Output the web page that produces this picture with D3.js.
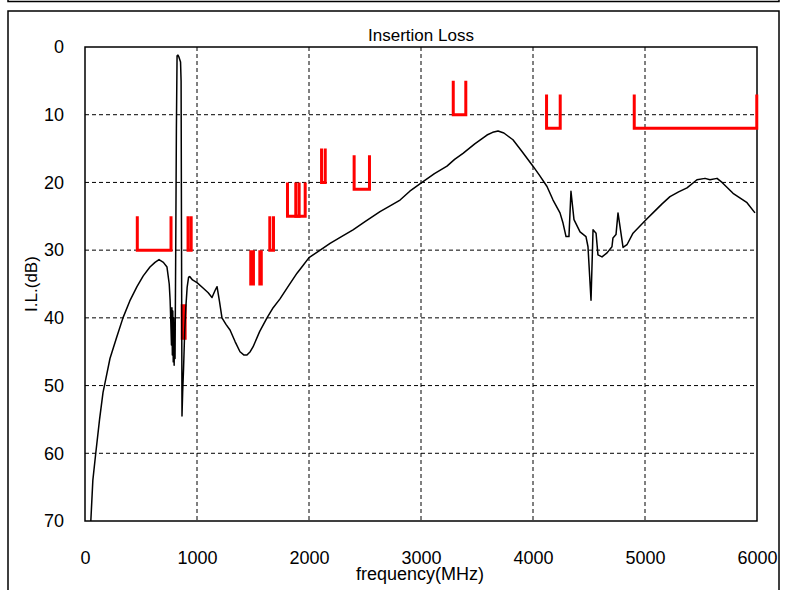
<!DOCTYPE html>
<meta charset="utf-8">
<style>
body{margin:0;background:#fff;}
text{font-family:Arial,"Liberation Sans",sans-serif;fill:#000;}
</style>
<body>
<script src="https://d3js.org/d3.v7.min.js"></script>
<script>
// measured insertion loss curve
var freq = [52,70,96,130,161,180,223,280,339,400,464,520,580,625,661,700,732,752,760,765,772,776,780,784,788,792,796,800,804,810,816,822,830,839,853,858,862,866,872,880,890,900,912,925,935,960,1000,1054,1100,1134,1160,1179,1200,1223,1260,1295,1340,1384,1420,1446,1475,1500,1560,1625,1680,1741,1820,1893,1950,2000,2100,2188,2290,2393,2500,2634,2720,2813,2900,3009,3120,3232,3300,3375,3480,3589,3640,3688,3740,3821,3900,4000,4060,4125,4179,4241,4268,4295,4321,4339,4366,4420,4473,4491,4518,4536,4563,4580,4616,4661,4705,4714,4741,4759,4804,4839,4893,5009,5071,5150,5223,5300,5375,5464,5536,5580,5643,5688,5786,5911,5982];
var loss = [70,64,60,55,51,49.5,46,43,40,37.5,35.4,33.8,32.5,31.8,31.4,31.8,32.5,35,37.4,40,44,38.5,45.5,39,46.5,40,47,41,46,30,12,1.3,1.2,1.5,2.2,5,30,54.5,51,47.5,42,38.5,35.5,34,33.9,34.4,34.8,35.6,36.3,37,36,35.4,37.5,40,41,41.8,43.5,45,45.5,45.5,45,44.3,42,40,38.5,37.2,35.2,33.4,32.2,31.1,30,29,28,27,25.8,24.3,23.5,22.6,21.3,20,18.7,17.6,16.6,15.7,14.3,13,12.6,12.4,12.7,13.7,15.4,17.6,19,20.6,22.6,24.5,26,28,28,21.3,25.5,27.3,28,29.5,37.4,27,27.5,30.7,31,30.4,29.5,28.2,27.7,24.5,29.6,29.2,27.5,25.5,24.5,23.2,22.1,21.4,20.8,19.6,19.4,19.6,19.4,20,21.6,23,24.5];

// spec masks (U shapes): start / end frequency, upper and lower limit
var specStart  = [467,920,868,1480,1561,1650,1808,1882,2112,2403,3288,4121,4904];
var specEnd    = [768,948,894,1504,1574,1683,1966,1912,2145,2540,3400,4243,5998];
var specTop    = [25,25,38,30,30,25,20,20,15,16,5,7,7];
var specBottom = [30,30,43,35,35,30,25,25,20,21,10,12,12];

var xTicks = [0,1000,2000,3000,4000,5000,6000];
var yTicks = [0,10,20,30,40,50,60,70];

var w = 785, h = 590;
var pLeft = 85, pRight = 757, pTop = 47, pBottom = 521;

var svg = d3.select("body").append("svg")
  .attr("width", w)
  .attr("height", h);

// outer frames
svg.append("rect")
  .attr("x", 8).attr("y", -20).attr("width", 771).attr("height", 21.5)
  .attr("fill", "none").attr("stroke", "#000").attr("stroke-width", 1.5);
svg.append("rect")
  .attr("x", 8).attr("y", 11).attr("width", 771).attr("height", 600)
  .attr("fill", "none").attr("stroke", "#000").attr("stroke-width", 1.5);

var x = d3.scaleLinear().domain([0, 6000]).range([pLeft, pRight]);
var y = d3.scaleLinear().domain([0, 70]).range([pTop, pBottom]);

// grid
svg.selectAll(".vgrid")
  .data(xTicks.slice(1, -1))
  .enter().append("line")
  .attr("x1", d => x(d)).attr("x2", d => x(d))
  .attr("y1", pTop).attr("y2", pBottom)
  .attr("stroke", "#000").attr("stroke-width", 1)
  .attr("stroke-dasharray", "4,3");

svg.selectAll(".hgrid")
  .data(yTicks.slice(1, -1))
  .enter().append("line")
  .attr("x1", pLeft).attr("x2", pRight)
  .attr("y1", d => y(d)).attr("y2", d => y(d))
  .attr("stroke", "#000").attr("stroke-width", 1)
  .attr("stroke-dasharray", "4,3");

// axes (labels only, no tick marks)
var xAxis = svg.append("g")
  .attr("transform", "translate(0," + pBottom + ")")
  .call(d3.axisBottom(x).tickValues(xTicks).tickSize(0).tickPadding(30).tickFormat(d3.format("d")));
var yAxis = svg.append("g")
  .attr("transform", "translate(" + pLeft + ",0)")
  .call(d3.axisLeft(y).tickValues(yTicks).tickSize(0).tickPadding(21).tickFormat(d3.format("d")));
[xAxis, yAxis].forEach(function(g) {
  g.select(".domain").remove();
  g.selectAll("text").attr("font-size", "18px").attr("font-family", "Arial, 'Liberation Sans', sans-serif").attr("fill", "#000");
});

// plot frame
svg.append("rect")
  .attr("x", pLeft).attr("y", pTop)
  .attr("width", pRight - pLeft).attr("height", pBottom - pTop)
  .attr("fill", "none").attr("stroke", "#000").attr("stroke-width", 1.5);

// spec lines
var specs = specStart.map(function(s, i) {
  return [[s, specTop[i]], [s, specBottom[i]], [specEnd[i], specBottom[i]], [specEnd[i], specTop[i]]];
});
var specLine = d3.line().x(d => x(d[0])).y(d => y(d[1]));
svg.selectAll(".spec")
  .data(specs)
  .enter().append("path")
  .attr("d", specLine)
  .attr("fill", "none")
  .attr("stroke", "#ff0000")
  .attr("stroke-width", 3)
  .attr("stroke-linejoin", "miter");

// curve
var pts = freq.map(function(f, i) { return [f, loss[i]]; });
svg.append("path")
  .datum(pts)
  .attr("d", d3.line().x(d => x(d[0])).y(d => y(d[1])))
  .attr("fill", "none")
  .attr("stroke", "#000")
  .attr("stroke-width", 1.5)
  .attr("stroke-linejoin", "round");

// titles
svg.append("text")
  .attr("x", (pLeft + pRight) / 2).attr("y", 41)
  .attr("text-anchor", "middle")
  .attr("font-size", "17px")
  .text("Insertion Loss");

svg.append("text")
  .attr("x", (pLeft + pRight) / 2 - 1).attr("y", 580)
  .attr("text-anchor", "middle")
  .attr("font-size", "18px")
  .text("frequency(MHz)");

svg.append("text")
  .attr("transform", "translate(37," + ((pTop + pBottom) / 2) + ") rotate(-90)")
  .attr("text-anchor", "middle")
  .attr("font-size", "17px")
  .text("I.L.(dB)");
</script>
</body>
